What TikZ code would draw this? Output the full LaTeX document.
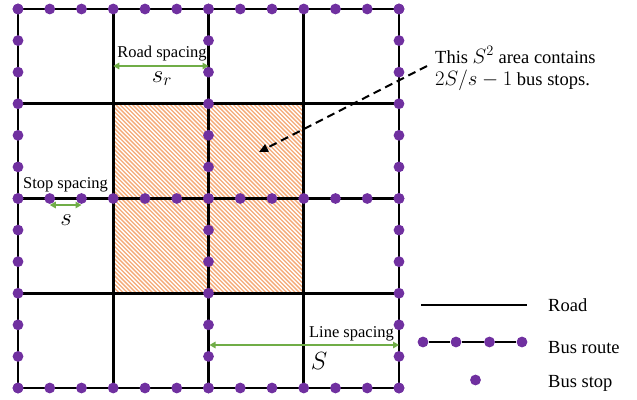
\documentclass[tikz,border=0pt]{standalone}
\usepackage{fontspec}
\setmainfont{Liberation Serif}
\usetikzlibrary{arrows.meta}
\definecolor{stopc}{RGB}{112,48,160}
\definecolor{greenc}{RGB}{112,173,71}
\definecolor{hatchc}{RGB}{244,170,120}
\tikzset{
  road/.style={line width=2.9pt, black},
  stopdot/.style={circle, fill=stopc, draw=none, minimum size=10.8pt, inner sep=0pt},
  spacearrow/.style={greenc, line width=1.9pt, {Triangle[length=6pt,width=6.5pt]}-{Triangle[length=6pt,width=6.5pt]}},
  lbl/.style={inner sep=0pt, font=\fontsize{16.5}{19}\selectfont},
  mathlbl/.style={inner sep=0pt, font=\fontsize{25}{28}\selectfont},
  big/.style={inner sep=0pt, font=\fontsize{18.5}{24}\selectfont},
}
\newcommand{\calloutmath}[1]{{\fontsize{19.5}{24}\selectfont$#1$}}
\begin{document}
\begin{tikzpicture}[x=1pt,y=-1pt]
\useasboundingbox (0,0) rectangle (637,399);
\def\xo{18}\def\dx{31.75}\def\yo{9}\def\dy{31.583}
% grid coordinates
\foreach \i in {0,...,12}{
  \foreach \j in {0,...,12}{
    \coordinate (g-\i-\j) at ({\xo+\dx*\i},{\yo+\dy*\j});
  }
}
% hatched S^2 area
\begin{scope}
  \clip (g-3-3) rectangle (g-9-9);
  \foreach \k in {-200,-195.8,...,200}
    \draw[hatchc, line width=1.3pt] ({113.25+\k},103.75) -- ++(200,200);
\end{scope}
% roads
\foreach \i in {0,3,6,9,12}{
  \draw[road, line cap=rect] (g-\i-0) -- (g-\i-12);
  \draw[road, line cap=rect] (g-0-\i) -- (g-12-\i);
}
% bus stops
\foreach \k in {0,...,12}{
  \node[stopdot] (st-\k-0) at (g-\k-0) {};
  \node[stopdot] (st-\k-12) at (g-\k-12) {};
  \node[stopdot] (st-0-\k) at (g-0-\k) {};
  \node[stopdot] (st-12-\k) at (g-12-\k) {};
  \node[stopdot] (st-6-\k) at (g-6-\k) {};
  \node[stopdot] (st-\k-6) at (g-\k-6) {};
}
% road spacing
\coordinate (ra) at (113.25,66);
\coordinate (rb) at (208.5,66);
\draw[spacearrow] (ra) -- (rb);
\node[lbl, anchor=base] (rsl) at (162,57) {Road spacing};
\node[mathlbl, anchor=base] (rsm) at (162,82) {$s_r$};
% stop spacing
\coordinate (sa) at (49.75,205);
\coordinate (sb) at (81.5,205);
\draw[spacearrow] (sa) -- (sb);
\node[lbl, anchor=base] (ssl) at (65.5,188) {Stop spacing};
\node[mathlbl, anchor=base] (ssm) at (66,225) {$s$};
% line spacing
\coordinate (la) at (209.5,345);
\coordinate (lb) at (399,345);
\draw[spacearrow] (la) -- (lb);
\node[lbl, anchor=base] (lsl) at (351.5,337) {Line spacing};
\node[mathlbl, anchor=base] (lsm) at (319,369) {$S$};
% callout
\node[big, anchor=base west] (c1) at (435,63) {This \calloutmath{S^2} area contains};
\node[big, anchor=base west] (c2) at (435,85) {\calloutmath{2S/s-1} bus stops.};
\coordinate (da) at (427,66);
\coordinate (db) at (259,152);
\draw[line width=2pt, dash pattern=on 8pt off 5pt, -{Triangle[length=9pt,width=8pt]}] (da) -- (db);
% legend
\coordinate (r1) at (421,305);
\coordinate (r2) at (527,305);
\draw[line width=2.5pt] (r1) -- (r2);
\node[big, anchor=base west] (lr) at (548,311) {Road};
\node[stopdot] (b1) at (423,342) {};
\node[stopdot] (b2) at (456,342) {};
\node[stopdot] (b3) at (489.5,342) {};
\node[stopdot] (b4) at (522,342) {};
\draw[line width=2.5pt] (b1) -- (b2) -- (b3) -- (b4);
\node[big, anchor=base west] (lb2) at (548,353) {Bus route};
\node[stopdot] (b5) at (475.5,380) {};
\node[big, anchor=base west] (ls) at (548,387) {Bus stop};
\end{tikzpicture}
\end{document}
